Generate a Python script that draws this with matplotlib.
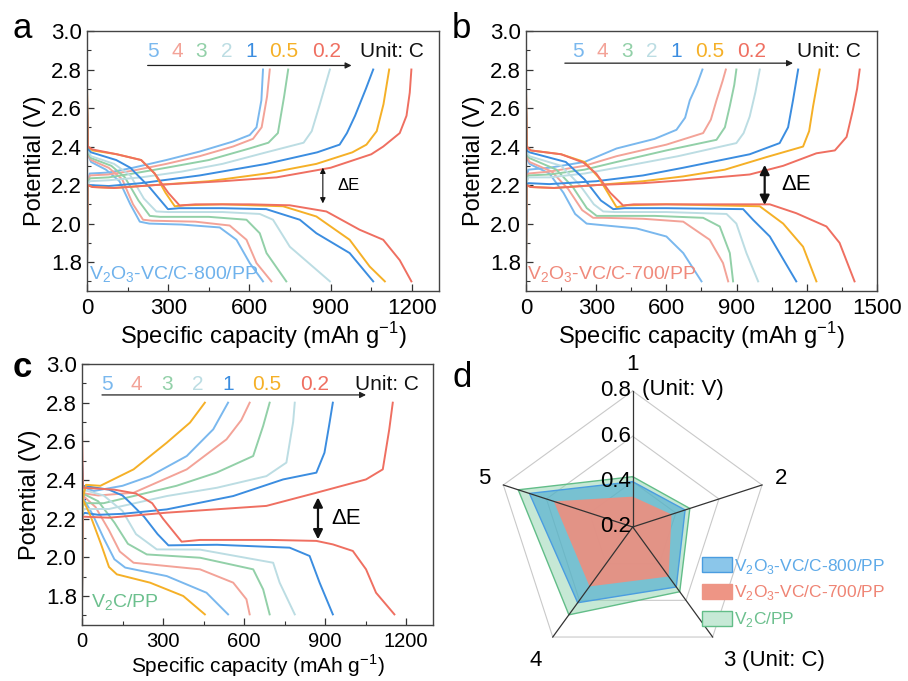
import numpy as np
import matplotlib
matplotlib.use("Agg")
import matplotlib.pyplot as plt
from matplotlib.patches import Patch

plt.rcParams['font.family'] = ['Liberation Sans', 'DejaVu Sans']
plt.rcParams['mathtext.fontset'] = 'custom'
plt.rcParams['mathtext.rm'] = 'Liberation Sans'

RATES = ['5', '4', '3', '2', '1', '0.5', '0.2']
COLORS = ['#7ab8ee', '#f3a398', '#92d0a8', '#bcdde3', '#3b8de0', '#f5b027', '#ef6f61']

# ---- panel a: V2O3-VC/C-800/PP ----
A_CHG_Q = [
    [0, 2, 10, 80, 170, 293, 416, 539, 601, 626, 644, 650],
    [0, 2, 10, 80, 170, 293, 416, 539, 613, 645, 665, 675],
    [0, 2, 10, 80, 170, 293, 450, 600, 670, 705, 728, 743],
    [0, 2, 10, 80, 200, 350, 500, 662, 800, 830, 860, 897],
    [0, 2, 10, 80, 200, 416, 662, 850, 933, 960, 990, 1030, 1057],
    [0, 2, 20, 100, 250, 450, 662, 847, 980, 1032, 1070, 1095, 1116],
    [0, 2, 20, 100, 250, 500, 700, 900, 1050, 1094, 1155, 1180, 1192, 1198],
]
A_CHG_V = [
    [1.75, 2.20, 2.26, 2.265, 2.29, 2.33, 2.374, 2.426, 2.46, 2.50, 2.64, 2.80],
    [1.75, 2.20, 2.25, 2.255, 2.275, 2.31, 2.35, 2.40, 2.44, 2.50, 2.66, 2.80],
    [1.75, 2.20, 2.235, 2.24, 2.26, 2.29, 2.33, 2.39, 2.42, 2.47, 2.66, 2.80],
    [1.75, 2.20, 2.22, 2.225, 2.24, 2.27, 2.31, 2.37, 2.42, 2.48, 2.62, 2.80],
    [1.75, 2.19, 2.20, 2.195, 2.21, 2.25, 2.31, 2.37, 2.41, 2.47, 2.56, 2.70, 2.80],
    [1.75, 2.20, 2.19, 2.185, 2.20, 2.22, 2.26, 2.31, 2.37, 2.41, 2.48, 2.62, 2.80],
    [1.75, 2.20, 2.19, 2.185, 2.20, 2.22, 2.24, 2.29, 2.36, 2.40, 2.47, 2.56, 2.68, 2.80],
]
A_DIS_Q = [
    [0, 3, 15, 70, 120, 160, 195, 230, 350, 490, 552, 601, 650],
    [0, 3, 15, 80, 130, 170, 207, 240, 400, 527, 589, 626, 681],
    [0, 3, 15, 90, 140, 190, 232, 270, 450, 589, 638, 663, 736],
    [0, 3, 15, 100, 160, 210, 256, 300, 500, 638, 687, 749, 897],
    [0, 3, 15, 108, 160, 230, 299, 340, 500, 662, 786, 847, 970, 1057],
    [0, 3, 20, 110, 200, 250, 290, 324, 360, 500, 724, 847, 970, 1044, 1100],
    [0, 3, 20, 110, 200, 250, 300, 342, 400, 600, 749, 884, 1007, 1094, 1155, 1198],
]
A_DIS_V = [
    [2.60, 2.36, 2.32, 2.28, 2.22, 2.10, 2.01, 2.00, 1.995, 1.98, 1.916, 1.795, 1.70],
    [2.60, 2.36, 2.33, 2.29, 2.23, 2.10, 2.02, 2.015, 2.01, 1.99, 1.916, 1.795, 1.70],
    [2.62, 2.37, 2.34, 2.30, 2.24, 2.12, 2.04, 2.035, 2.035, 2.02, 1.95, 1.847, 1.70],
    [2.64, 2.38, 2.35, 2.31, 2.25, 2.13, 2.063, 2.06, 2.06, 2.05, 2.02, 1.88, 1.70],
    [2.66, 2.39, 2.37, 2.33, 2.29, 2.19, 2.075, 2.08, 2.08, 2.075, 2.02, 1.95, 1.847, 1.70],
    [2.72, 2.40, 2.38, 2.36, 2.33, 2.26, 2.16, 2.09, 2.095, 2.10, 2.09, 2.037, 1.916, 1.777, 1.70],
    [2.70, 2.40, 2.385, 2.36, 2.33, 2.26, 2.16, 2.094, 2.10, 2.10, 2.095, 2.063, 1.968, 1.916, 1.81, 1.70],
]

# ---- panel b: V2O3-VC/C-700/PP ----
B_CHG_Q = [
    [0, 2, 10, 100, 250, 387, 550, 643, 680, 700, 730, 754],
    [0, 2, 10, 100, 250, 387, 600, 757, 790, 814, 840, 854],
    [0, 2, 10, 100, 250, 387, 600, 814, 850, 871, 890, 899],
    [0, 2, 10, 100, 250, 387, 650, 899, 930, 956, 980, 999],
    [0, 2, 10, 100, 300, 500, 672, 956, 1084, 1120, 1141, 1163],
    [0, 2, 20, 120, 300, 500, 672, 850, 1027, 1184, 1210, 1227, 1255],
    [0, 2, 20, 120, 300, 500, 672, 956, 1099, 1241, 1320, 1370, 1397, 1415, 1426],
]
B_CHG_V = [
    [1.75, 2.22, 2.28, 2.29, 2.32, 2.39, 2.44, 2.487, 2.55, 2.64, 2.72, 2.80],
    [1.75, 2.22, 2.26, 2.27, 2.30, 2.35, 2.41, 2.47, 2.54, 2.64, 2.74, 2.80],
    [1.75, 2.21, 2.25, 2.255, 2.28, 2.32, 2.38, 2.435, 2.50, 2.61, 2.72, 2.80],
    [1.75, 2.21, 2.24, 2.24, 2.26, 2.29, 2.35, 2.418, 2.47, 2.556, 2.68, 2.80],
    [1.75, 2.20, 2.21, 2.205, 2.22, 2.25, 2.29, 2.36, 2.418, 2.50, 2.64, 2.80],
    [1.75, 2.20, 2.19, 2.185, 2.20, 2.22, 2.245, 2.28, 2.345, 2.40, 2.48, 2.61, 2.80],
    [1.75, 2.20, 2.19, 2.185, 2.20, 2.21, 2.225, 2.255, 2.30, 2.365, 2.38, 2.45, 2.59, 2.70, 2.80],
]
B_DIS_Q = [
    [0, 3, 15, 100, 160, 210, 259, 300, 472, 600, 672, 750],
    [0, 3, 15, 110, 180, 240, 287, 330, 500, 672, 785, 842, 864],
    [0, 3, 15, 130, 200, 260, 302, 350, 550, 757, 828, 871, 885],
    [0, 3, 15, 150, 230, 290, 330, 380, 600, 857, 899, 942, 992],
    [0, 3, 15, 170, 250, 320, 373, 420, 600, 928, 970, 1042, 1155],
    [0, 3, 20, 150, 250, 310, 387, 430, 600, 999, 1099, 1184, 1241],
    [0, 3, 20, 150, 245, 300, 360, 415, 460, 700, 1042, 1155, 1284, 1340, 1404],
]
B_DIS_V = [
    [2.60, 2.34, 2.31, 2.26, 2.16, 2.05, 2.00, 1.995, 1.975, 1.933, 1.847, 1.70],
    [2.62, 2.35, 2.32, 2.27, 2.18, 2.07, 2.03, 2.03, 2.025, 2.01, 1.916, 1.795, 1.70],
    [2.62, 2.36, 2.34, 2.28, 2.19, 2.08, 2.04, 2.04, 2.04, 2.03, 1.985, 1.847, 1.70],
    [2.64, 2.37, 2.35, 2.30, 2.20, 2.10, 2.063, 2.06, 2.06, 2.05, 2.00, 1.847, 1.70],
    [2.66, 2.38, 2.37, 2.32, 2.23, 2.12, 2.075, 2.08, 2.08, 2.075, 2.02, 1.933, 1.70],
    [2.70, 2.40, 2.38, 2.36, 2.32, 2.24, 2.085, 2.095, 2.10, 2.09, 2.00, 1.88, 1.70],
    [2.70, 2.40, 2.38, 2.36, 2.317, 2.26, 2.16, 2.094, 2.10, 2.10, 2.10, 2.054, 1.985, 1.90, 1.70],
]

# ---- panel c: V2C/PP ----
C_CHG_Q = [
    [0, 2, 10, 43, 150, 252, 388, 486, 541],
    [0, 2, 10, 60, 191, 388, 535, 590, 621],
    [0, 2, 10, 80, 191, 350, 498, 634, 671, 695],
    [0, 2, 10, 100, 314, 500, 683, 757, 782, 788],
    [0, 2, 10, 60, 150, 314, 560, 745, 868, 898, 915, 929],
    [0, 2, 15, 68, 191, 314, 400, 455],
    [0, 2, 10, 100, 314, 683, 868, 1052, 1114, 1138, 1151],
]
C_CHG_V = [
    [1.75, 2.30, 2.36, 2.343, 2.37, 2.42, 2.524, 2.662, 2.80],
    [1.75, 2.29, 2.33, 2.32, 2.334, 2.455, 2.61, 2.71, 2.80],
    [1.75, 2.26, 2.28, 2.28, 2.317, 2.37, 2.438, 2.524, 2.68, 2.80],
    [1.75, 2.24, 2.25, 2.25, 2.317, 2.36, 2.42, 2.49, 2.70, 2.80],
    [1.75, 2.22, 2.23, 2.22, 2.225, 2.248, 2.317, 2.403, 2.438, 2.541, 2.68, 2.80],
    [1.75, 2.30, 2.375, 2.37, 2.455, 2.593, 2.697, 2.80],
    [1.75, 2.21, 2.21, 2.205, 2.231, 2.266, 2.334, 2.403, 2.455, 2.662, 2.80],
]
C_DIS_Q = [
    [0, 3, 40, 80, 120, 160, 314, 461, 541],
    [0, 3, 50, 100, 140, 191, 437, 560, 609, 621],
    [0, 3, 60, 120, 170, 240, 437, 634, 671, 695],
    [0, 3, 80, 150, 200, 277, 437, 708, 732, 788],
    [0, 3, 100, 150, 180, 230, 280, 320, 500, 769, 843, 880, 929],
    [0, 3, 30, 70, 100, 129, 252, 375, 455],
    [0, 3, 120, 200, 260, 300, 369, 437, 700, 868, 929, 1003, 1052, 1089, 1157],
]
C_DIS_V = [
    [2.50, 2.31, 2.22, 2.10, 1.99, 1.947, 1.903, 1.817, 1.705],
    [2.50, 2.32, 2.26, 2.14, 2.03, 1.972, 1.938, 1.869, 1.783, 1.705],
    [2.50, 2.33, 2.29, 2.18, 2.07, 2.015, 1.998, 1.938, 1.834, 1.705],
    [2.50, 2.35, 2.32, 2.24, 2.12, 2.041, 2.04, 1.972, 1.869, 1.705],
    [2.50, 2.37, 2.35, 2.32, 2.28, 2.21, 2.12, 2.062, 2.065, 2.05, 2.007, 1.869, 1.705],
    [2.45, 2.30, 2.22, 2.07, 1.95, 1.912, 1.869, 1.80, 1.705],
    [2.68, 2.36, 2.35, 2.33, 2.28, 2.20, 2.081, 2.09, 2.09, 2.085, 2.067, 2.033, 1.938, 1.817, 1.705],
]

# ---- panel d: voltage hysteresis (V) vs rate (C) ----
SPOKES = ['1', '2', '3', '4', '5']
DE_800 = [0.40, 0.443, 0.527, 0.613, 0.679]
DE_700 = [0.334, 0.38, 0.47, 0.524, 0.566]
DE_V2C = [0.422, 0.465, 0.553, 0.679, 0.731]
RINGS = [0.4, 0.6, 0.8]

W, H = 908, 681
fig = plt.figure(figsize=(W / 100, H / 100), dpi=100)


def px_axes(l, t, r, b, **kw):
    return fig.add_axes([l / W, 1 - b / H, (r - l) / W, (b - t) / H], **kw)


def gc_panel(ax, cq, cv, dq, dv, xmax, xstep, lbl_x, unit_x, arr, de, sample, xfs=16, xlfs=17):
    for i in range(len(RATES)):
        ax.plot(cq[i], cv[i], color=COLORS[i], lw=1.4, solid_joinstyle='round')
        ax.plot(dq[i], dv[i], color=COLORS[i], lw=1.4, solid_joinstyle='round')
    ax.set_xlim(0, xmax)
    ax.set_ylim(1.65, 3.0)
    ax.set_xticks(np.arange(0, xmax + 1, xstep))
    ax.set_xticks(np.arange(xstep / 2, xmax, xstep), minor=True)
    ax.set_yticks(np.arange(1.8, 3.01, 0.2))
    ax.set_yticks(np.arange(1.7, 3.0, 0.2), minor=True)
    ax.yaxis.set_major_formatter(matplotlib.ticker.FormatStrFormatter('%.1f'))
    ax.tick_params(which='both', direction='in', color='#333333')
    ax.tick_params(axis='y', labelsize=16)
    ax.tick_params(axis='x', labelsize=xfs, pad=5)
    ax.tick_params(which='major', length=5, width=0.9)
    ax.tick_params(which='minor', length=3, width=0.8)
    for s in ax.spines.values():
        s.set_color('#444444')
        s.set_linewidth(1.0)
    ax.set_xlabel('Specific capacity (mAh g$^{\\mathregular{-1}}$)', fontsize=xlfs, labelpad=1)
    ax.set_ylabel('Potential (V)', fontsize=17, labelpad=4)
    for i, r in enumerate(RATES):
        ax.text(lbl_x[i], 2.895, r, color=COLORS[i], fontsize=15, ha='center', va='center')
    ax.text(unit_x, 2.895, 'Unit: C', fontsize=15, ha='left', va='center', color='#111111')
    ax.annotate('', xy=(arr[1], arr[2]), xytext=(arr[0], arr[2]),
                arrowprops=dict(arrowstyle='-|>', lw=0.9, color='#222222', mutation_scale=9,
                                shrinkA=0, shrinkB=0))
    ax.annotate('', xy=(de[0], de[2]), xytext=(de[0], de[1]),
                arrowprops=dict(arrowstyle='<|-|>', lw=de[5], color='#111111', mutation_scale=de[6],
                                shrinkA=0, shrinkB=0))
    ax.text(de[3], (de[1] + de[2]) / 2, '\u0394E', fontsize=de[4], ha='left', va='center')
    ax.text(sample[1], sample[2], sample[0], color=sample[3], fontsize=14, ha='left', va='center')


ax_a = px_axes(87, 31, 439, 291)
gc_panel(ax_a, A_CHG_Q, A_CHG_V, A_DIS_Q, A_DIS_V, 1300, 300,
         [243, 335, 423, 515, 605, 728, 885], 1010, (224, 977, 2.821),
         (871, 2.29, 2.105, 925, 12, 0.8, 8),
         (r'V$_\mathregular{2}$O$_\mathregular{3}$-VC/C-800/PP', 8, 1.735, '#6fb2ec'))

ax_b = px_axes(526, 31, 877, 291)
gc_panel(ax_b, B_CHG_Q, B_CHG_V, B_DIS_Q, B_DIS_V, 1500, 300,
         [223, 327, 434, 537, 640, 783, 963], 1160, (166, 1141, 2.833),
         (1020, 2.305, 2.097, 1090, 16, 1.6, 14),
         (r'V$_\mathregular{2}$O$_\mathregular{3}$-VC/C-700/PP', 5, 1.735, '#f08a7c'))

ax_c = px_axes(82, 364, 433, 625)
gc_panel(ax_c, C_CHG_Q, C_CHG_V, C_DIS_Q, C_DIS_V, 1300, 300,
         [92, 201, 314, 427, 542, 683, 862], 1012, (74, 1052, 2.84),
         (874, 2.31, 2.093, 925, 16, 1.6, 14),
         (r'V$_\mathregular{2}$C/PP', 35, 1.766, '#6cc08e'), xfs=14.5, xlfs=15)

# ---- radar ----
cx, cy, rad = 632.7, 527, 136
ax_d = px_axes(cx - rad, cy - rad, cx + rad, cy + rad, projection='polar')
ax_d.set_theta_zero_location('N')
ax_d.set_theta_direction(-1)
ax_d.set_ylim(0.2, 0.8)
ax_d.grid(False)
ax_d.set_xticks([])
ax_d.set_yticks([])
ax_d.spines['polar'].set_visible(False)
ax_d.patch.set_alpha(0)

theta = np.arange(len(SPOKES)) * 2 * np.pi / len(SPOKES)
tc = np.append(theta, theta[0])
for r in RINGS:
    ax_d.plot(tc, [r] * len(tc), color='#c9c9c9', lw=0.8, zorder=1, clip_on=False)

ax_d.fill(tc, np.append(DE_V2C, DE_V2C[0]), facecolor='#8fd3ad', alpha=0.5, zorder=2)
ax_d.plot(tc, np.append(DE_V2C, DE_V2C[0]), color='#62bd88', lw=1.0, zorder=2)
ax_d.fill(tc, np.append(DE_800, DE_800[0]), facecolor='#45a8cf', alpha=0.6, zorder=3)
ax_d.plot(tc, np.append(DE_800, DE_800[0]), color='#4a9de0', lw=1.0, zorder=3)
ax_d.fill(tc, np.append(DE_700, DE_700[0]), facecolor='#ec8f80', alpha=0.92, zorder=4)

for t in theta:
    ax_d.plot([t, t], [0.2, 0.8], color='#333333', lw=0.9, zorder=6, clip_on=False)

for r in [0.2, 0.4, 0.6, 0.8]:
    ax_d.annotate('%.1f' % r, xy=(0, r), xytext=(-1, 0), textcoords='offset points',
                  ha='right', va='center', fontsize=16, zorder=7, annotation_clip=False)
ax_d.annotate('(Unit: V)', xy=(0, 0.8), xytext=(7, 1), textcoords='offset points',
              ha='left', va='center', fontsize=16, annotation_clip=False)
lab_r = [0.915, 0.888, 0.928, 0.928, 0.888]
for t, s, r in zip(theta, SPOKES, lab_r):
    ax_d.text(t, r, s, ha='center', va='center', fontsize=16)
ax_d.annotate('(Unit: C)', xy=(theta[2], lab_r[2]), xytext=(9, 0), textcoords='offset points',
              ha='left', va='center', fontsize=16, annotation_clip=False)

handles = [
    Patch(facecolor='#8bc6ea', edgecolor='#4a9de0', lw=1.0),
    Patch(facecolor='#ee9585', edgecolor='#ee9585', lw=1.0),
    Patch(facecolor='#c6e9d6', edgecolor='#62bd88', lw=1.0),
]
labels = [r'V$_\mathregular{2}$O$_\mathregular{3}$-VC/C-800/PP',
          r'V$_\mathregular{2}$O$_\mathregular{3}$-VC/C-700/PP',
          r'V$_\mathregular{2}$C/PP']
fig.legend(handles, labels, loc='center left', bbox_to_anchor=(702 / W, 1 - 593 / H),
           frameon=False, fontsize=12.5, handlelength=1.75, handleheight=0.95,
           handletextpad=0.1, labelspacing=0.45, borderpad=0, borderaxespad=0,
           labelcolor=['#5eaae8', '#ef8474', '#6cc08e'])

# panel letters
fig.text(13 / W, 1 - 38 / H, 'a', fontsize=25, ha='left', va='baseline')
fig.text(452 / W, 1 - 38 / H, 'b', fontsize=25, ha='left', va='baseline')
fig.text(13 / W, 1 - 377 / H, 'c', fontsize=25, ha='left', va='baseline', fontweight='bold')
fig.text(452 / W, 1 - 387 / H, 'd', fontsize=25, ha='left', va='baseline')

fig.savefig('out.png', dpi=100)
